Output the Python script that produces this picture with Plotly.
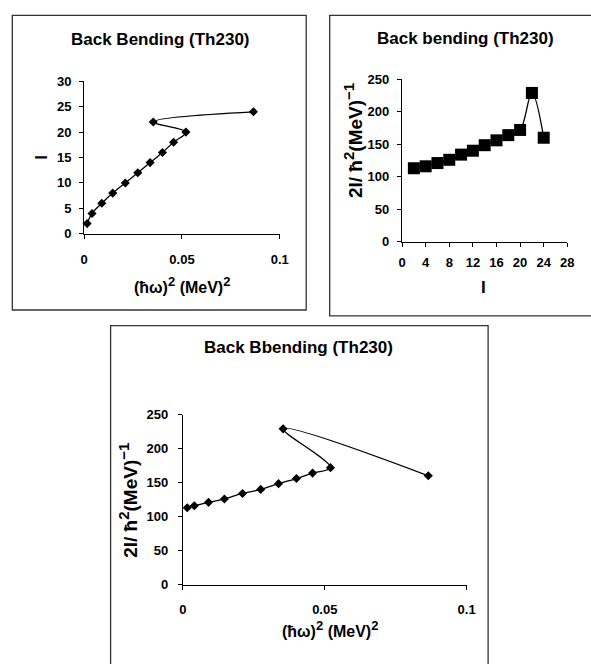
import plotly.graph_objects as go

# ---- data ----
spin_I = [2, 4, 6, 8, 10, 12, 14, 16, 18, 20, 22, 24]
hw_sq = [0.0015, 0.004, 0.009, 0.0146, 0.021, 0.0274, 0.0337, 0.040, 0.0457, 0.052, 0.0353, 0.0865]
moment = [113, 116, 121, 126, 134, 140, 148.5, 156, 164, 172, 229, 160]

title_tl = "Back Bending (Th230)"
title_tr = "Back bending (Th230)"
title_b = "Back Bbending (Th230)"
SUP_X = "<sup><span style='font-size:13px'>2</span></sup>"
xlab_hw = "(ħω)" + SUP_X + " (MeV)" + SUP_X
ylab_J = ("2I/ ħ<sup><span style='font-size:15px'>2</span></sup>(MeV)"
          "<sup><span style='font-size:15px'>−1</span></sup>")
lab_I = "I"

hw_ticks = [0, 0.05, 0.1]
hw_ticktext = ["0", "0.05", "0.1"]
I_ticks_y = [0, 5, 10, 15, 20, 25, 30]
I_ticks_x = [0, 4, 8, 12, 16, 20, 24, 28]
J_ticks = [0, 50, 100, 150, 200, 250]

W, H = 591, 664
FONT = "Liberation Sans"


def px(x):
    return x / W


def py(y):
    return 1 - y / H


fig = go.Figure()

line_style = dict(color="black", width=1.3, shape="spline", smoothing=1.0)
fig.add_trace(go.Scatter(
    x=hw_sq, y=spin_I, xaxis="x", yaxis="y", mode="lines+markers",
    line=line_style, marker=dict(symbol="diamond", size=7, color="black"),
    cliponaxis=False, showlegend=False))
fig.add_trace(go.Scatter(
    x=spin_I, y=moment, xaxis="x2", yaxis="y2", mode="lines+markers",
    line=line_style, marker=dict(symbol="square", size=12, color="black"),
    cliponaxis=False, showlegend=False))
fig.add_trace(go.Scatter(
    x=hw_sq, y=moment, xaxis="x3", yaxis="y3", mode="lines+markers",
    line=line_style, marker=dict(symbol="diamond", size=7, color="black"),
    cliponaxis=False, showlegend=False))

tickfont = dict(family=FONT, size=13, color="black", weight="bold")
common = dict(showline=True, linecolor="black", linewidth=1.3, ticks="outside",
              ticklen=4, tickcolor="black", tickwidth=1.3, showgrid=False,
              zeroline=False, tickfont=tickfont, mirror=False, fixedrange=True)

fig.update_layout(
    width=W, height=H, margin=dict(l=0, r=0, t=0, b=0),
    paper_bgcolor="white", plot_bgcolor="white",
    xaxis=dict(domain=[px(82), px(282)], range=[0, 0.1], anchor="y",
               tickvals=hw_ticks, ticktext=hw_ticktext, ticklabelstandoff=9, **common),
    yaxis=dict(domain=[py(232), py(76)], range=[0, 30], anchor="x",
               tickvals=I_ticks_y, ticklabelstandoff=5, **common),
    xaxis2=dict(domain=[px(407), px(576)], range=[0, 28], anchor="y2",
                tickvals=I_ticks_x, ticklabelstandoff=5, **common),
    yaxis2=dict(domain=[py(240), py(74)], range=[0, 250], anchor="x2",
                tickvals=J_ticks, ticklabelstandoff=5, **common),
    xaxis3=dict(domain=[px(183), px(473)], range=[0, 0.1], anchor="y3",
                tickvals=hw_ticks, ticktext=hw_ticktext, ticklabelstandoff=9, **common),
    yaxis3=dict(domain=[py(591), py(417)], range=[0, 250], anchor="x3",
                tickvals=J_ticks, ticklabelstandoff=7, **common),
)

box_line = dict(color="#333333", width=1.3)
shapes = [
    dict(type="rect", xref="paper", yref="paper", x0=px(8.5), x1=px(309), y0=py(310), y1=py(8.5), line=box_line),
    dict(type="rect", xref="paper", yref="paper", x0=px(333), x1=px(620), y0=py(316), y1=py(8.5), line=box_line),
    dict(type="rect", xref="paper", yref="paper", x0=px(109), x1=px(495), y0=py(700), y1=py(326), line=box_line),
]
fig.update_layout(shapes=shapes)

tfont = dict(family=FONT, size=17, color="black", weight="bold")
afont = dict(family=FONT, size=16, color="black", weight="bold")
yfont = dict(family=FONT, size=19, color="black", weight="bold")
ifont = dict(family=FONT, size=17, color="black", weight="bold")


def ann(text, x, y, font, angle=0):
    return dict(text=text, xref="paper", yref="paper", x=px(x), y=py(y),
                xanchor="center", yanchor="middle", showarrow=False,
                font=font, textangle=angle)


annotations = [
    ann(title_tl, 160, 33, tfont),
    ann(title_tr, 472, 32, tfont),
    ann(title_b, 301, 348, tfont),
    ann(xlab_hw, 182, 284, afont),
    ann(lab_I, 38, 154, ifont, -90),
    ann(lab_I, 490, 287, ifont),
    ann(ylab_J, 357, 137, yfont, -90),
    ann(xlab_hw, 333, 636, afont),
    ann(ylab_J, 126, 505, yfont, -90),
]
fig.update_layout(annotations=annotations)

fig.write_html("out.html", config={"displayModeBar": False},
               post_script="document.body.style.margin='0px';document.body.style.overflow='hidden';")
